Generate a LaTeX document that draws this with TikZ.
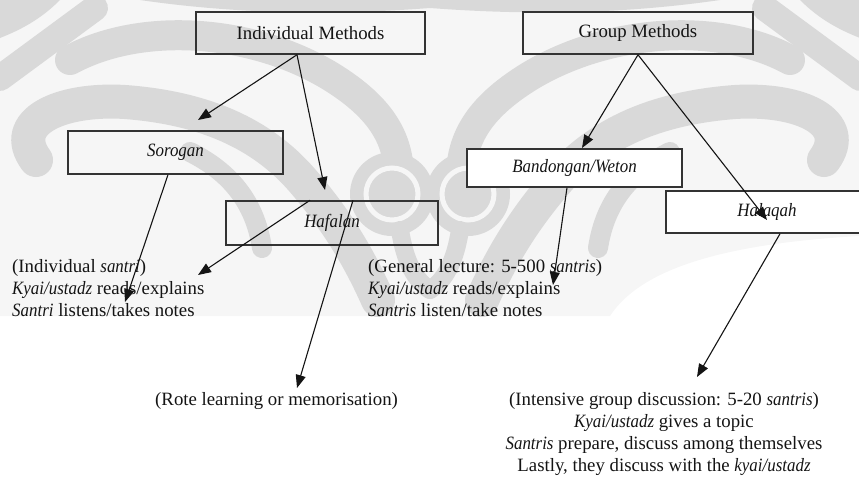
\documentclass[tikz,border=0pt]{standalone}
\usepackage{fontspec}
\setmainfont{Liberation Serif}
\usetikzlibrary{arrows.meta,calc}
\definecolor{wm}{HTML}{D9D9D9}
\definecolor{wmbg}{HTML}{F6F6F6}
\definecolor{ink}{HTML}{141414}
% narrow italic for the Javanese terms
\newcommand{\iw}[1]{\scalebox{0.9}[1]{\itshape #1}}
% one half of the batik background; drawn twice, mirrored
\newcommand{\batikhalf}{%
  \fill[wm] (140,0) .. controls (250,16) and (350,14) .. (430,8) -- (430,0) -- cycle;
  \fill[wm] (0,0) -- (60,0) .. controls (40,20) and (20,30) .. (0,38) -- cycle;
  \draw[wm, line width=26pt] (0,78) -- (95,8);
  \draw[wm, line width=30pt] (70,60) .. controls (140,22) and (250,28) .. (330,76)
        .. controls (382,108) and (404,142) .. (398,192);
  \draw[wm, line width=34pt] (36,160) .. controls (8,122) and (60,98) .. (125,102)
        .. controls (205,108) and (262,134) .. (302,180)
        .. controls (335,218) and (358,255) .. (378,300);
  \draw[wm, line width=20pt] (190,152) .. controls (230,172) and (255,202) .. (262,248);
  \fill[wm] (392,194) circle (42pt);
  \draw[wmbg, line width=5pt] (392,194) circle (26pt);
  \draw[wm, line width=18pt] (400,230) .. controls (405,262) and (415,280) .. (430,290);
}
\begin{document}
\begin{tikzpicture}[x=1pt,y=-1pt,
  every node/.style={font=\fontsize{18.8}{22}\selectfont, text=ink},
  methodbox/.style={draw=black!80, line width=1.5pt, inner sep=0pt},
  txt/.style={anchor=base west, inner sep=0pt},
  ctr/.style={anchor=base, inner sep=0pt},
  link/.style={draw=ink, line width=1.1pt, -{Triangle[length=13pt,width=10pt]}}]
\useasboundingbox (0,0) rectangle (859,477);

% background pattern
\begin{scope}[line cap=round]
  \fill[wmbg] (0,0) -- (859,0) -- (859,236) .. controls (720,244) and (640,270) .. (610,316)
    -- (0,316) -- cycle;
  \batikhalf
  \begin{scope}[xshift=860pt, xscale=-1]
    \batikhalf
  \end{scope}
\end{scope}

% boxes
\node[methodbox, minimum width=229pt, minimum height=42pt] (imeth) at (310.5,33) {Individual Methods};
\node[methodbox, minimum width=230pt, minimum height=42pt] (gmeth) at (638,33) {Group Methods};
\node[methodbox, minimum width=215pt, minimum height=43pt] (sorogan) at (175.5,152.5) {\iw{Sorogan}};
\node[methodbox, minimum width=212pt, minimum height=44pt] (hafalan) at (332,223) {\iw{Hafalan}};
\node[methodbox, fill=white, minimum width=215pt, minimum height=38pt] (bandongan) at (574.5,168) {\iw{Bandongan/Weton}};
\node[methodbox, fill=white, minimum width=202pt, minimum height=42pt] (halaqah) at (767,212) {\iw{Halaqah}};

% text blocks
\node[txt] (s1) at (12,272) {(Individual \iw{santri})};
\node[txt] (s2) at (12,294) {\iw{Kyai/ustadz} reads/explains};
\node[txt] (s3) at (12,316) {\iw{Santri} listens/takes notes};

\node[txt] (b1) at (368,272) {(General lecture: 5-500 \iw{santris})};
\node[txt] (b2) at (368,294) {\iw{Kyai/ustadz} reads/explains};
\node[txt] (b3) at (368,316) {\iw{Santris} listen/take notes};

\node[txt] (rote) at (155,405) {(Rote learning or memorisation)};

\node[ctr] (h1) at (664,405) {(Intensive group discussion: 5-20 \iw{santris})};
\node[ctr] (h2) at (664,427) {\iw{Kyai/ustadz} gives a topic};
\node[ctr] (h3) at (664,449) {\iw{Santris} prepare, discuss among themselves};
\node[ctr] (h4) at (664,471) {Lastly, they discuss with the \iw{kyai/ustadz}};

% arrow ends
\coordinate (toSorogan) at (198,120);
\coordinate (toHafalan) at (325,190);
\coordinate (toSantri) at (125,302);
\coordinate (toExplain) at (198,275);
\coordinate (toRote) at (297,388);
\coordinate (toBandongan) at (582,148);
\coordinate (toHalaqah) at (767,220);
\coordinate (toLecture) at (553,285);
\coordinate (toIntensive) at (697,377);

% connectors
\draw[link] ([xshift=-13.5pt]imeth.south) -- (toSorogan);
\draw[link] ([xshift=-13.5pt]imeth.south) -- (toHafalan);
\draw[link] ([xshift=-7.5pt]sorogan.south) -- (toSantri);
\draw[link] ([xshift=-22pt]hafalan.north) -- (toExplain);
\draw[link] ([xshift=21pt]hafalan.north) -- (toRote);
\draw[link] (gmeth.south) -- (toBandongan);
\draw[link] (gmeth.south) -- (toHalaqah);
\draw[link] ([xshift=-7.5pt]bandongan.south) -- (toLecture);
\draw[link] ([xshift=13pt]halaqah.south) -- (toIntensive);
\end{tikzpicture}
\end{document}
